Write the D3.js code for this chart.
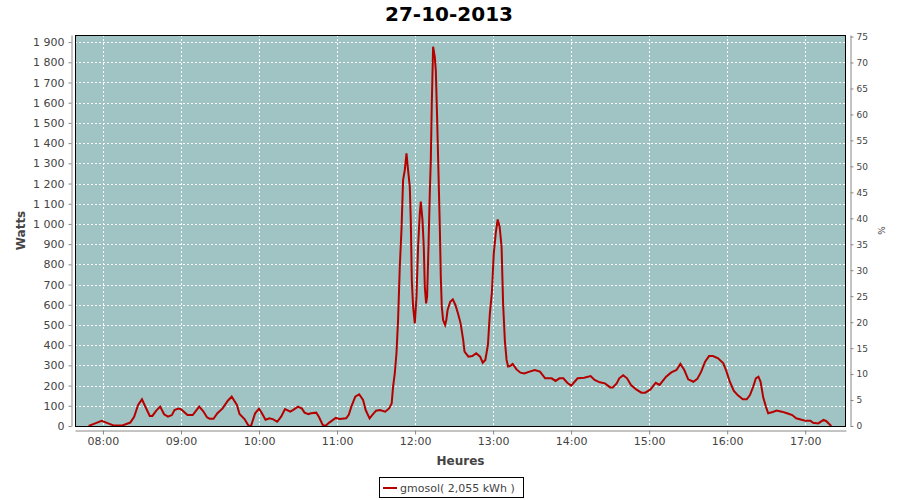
<!DOCTYPE html>
<html>
<head>
<meta charset="utf-8">
<script src="https://cdn.jsdelivr.net/npm/d3@7"></script>
<style>
  html, body { margin: 0; padding: 0; background: #fff; }
  svg { display: block; font-family: "DejaVu Sans", sans-serif; }
</style>
</head>
<body>
<svg id="chart" width="900" height="500"></svg>
<script>
// ---- data ----
const title = "27-10-2013";
const seriesName = "gmosol( 2,055 kWh )";
const times = [
  "07:49","07:54","07:59","08:04","08:08","08:15","08:21","08:24","08:27","08:30",
  "08:32","08:36","08:38","08:41","08:44","08:47","08:50","08:53","08:55","08:58",
  "09:00","09:05","09:09","09:14","09:17","09:20","09:22","09:25","09:28","09:32",
  "09:36","09:39","09:43","09:45","09:49","09:52","09:54","09:57","10:00","10:02",
  "10:05","10:08","10:11","10:14","10:17","10:20","10:24","10:26","10:30","10:33",
  "10:35","10:38","10:40","10:44","10:46","10:49","10:51","10:54","10:59","11:02",
  "11:07","11:09","11:11","11:14","11:17","11:20","11:22","11:25","11:27","11:30",
  "11:33","11:37","11:40","11:42",
  "11:43:05","11:44:23","11:45:41","11:46:55","11:48:14","11:49:32","11:50:46","11:52:05",
  "11:53:23","11:54:37","11:55:55","11:56:41","11:57:28","11:58:28","11:59:46","12:01:05",
  "12:02:18","12:03:37","12:04:23","12:05:41","12:06:41","12:07:28","12:08:28","12:09:14",
  "12:10:18","12:11:18","12:12:05","12:12:51","12:13:51","12:15:09","12:15:55","12:16:55",
  "12:18:00","12:19:00","12:19:46","12:20:32","12:21:32","12:23:05",
  "12:24","12:25","12:27","12:29","12:31","12:33","12:35","12:37","12:38","12:41",
  "12:44","12:47","12:50","12:52","12:54","12:56","12:57:30","12:59","13:00:30","13:02",
  "13:03:30","13:05","13:06:30","13:07:40","13:09","13:10:20","13:11:30","13:13","13:15","13:18",
  "13:21","13:24","13:28","13:32","13:36","13:40","13:45","13:48","13:51","13:54",
  "13:57","14:00","14:02","14:05","14:10","14:15","14:18","14:22","14:26","14:30",
  "14:32","14:35","14:37","14:40","14:43","14:46","14:50","14:54","14:57","15:01",
  "15:05","15:08","15:13","15:17","15:21","15:24","15:27","15:30","15:34","15:37",
  "15:40","15:43","15:46","15:49","15:53","15:57","15:59:30","16:02","16:05","16:08",
  "16:12","16:15","16:17:30","16:20","16:22","16:24","16:25:40","16:27:40","16:29:45","16:31:30",
  "16:35","16:38","16:42","16:46","16:50","16:53","17:00","17:04","17:06","17:10",
  "17:14","17:16","17:20"
];
const watts = [
  0,13,26,13,3,3,17,46,104,132,
  104,50,50,76,96,58,46,54,79,86,
  83,54,54,96,74,43,36,36,63,87,
  125,145,104,59,33,0,3,63,86,66,
  31,38,33,21,46,84,71,79,96,86,
  66,59,63,66,46,5,0,17,40,35,
  38,55,96,145,157,129,79,38,54,76,
  79,71,87,112,
  195,260,360,524,788,970,1217,1266,
  1349,1266,1184,1019,722,590,508,640,
  887,1052,1110,1019,887,690,607,640,
  887,1151,1316,1596,1877,1827,1761,1530,
  1250,986,739,590,524,500,
  524,574,615,627,599,557,508,425,368,343,
  346,360,343,313,327,401,557,656,854,953,
  1022,986,887,607,425,327,294,297,307,280,
  264,260,269,277,269,236,236,223,236,236,
  214,200,214,236,239,247,228,216,211,191,
  191,211,236,251,236,203,181,165,165,181,
  214,203,244,265,277,307,277,231,219,233,
  269,318,346,346,335,310,269,219,175,153,
  132,132,153,195,236,244,219,142,96,63,
  69,76,71,63,54,38,26,26,16,13,
  30,25,0
];
const wattTicks = d3.range(0, 2000, 100);
const pctTicks = d3.range(0, 80, 5);
const hourTicks = ["08:00","09:00","10:00","11:00","12:00","13:00","14:00","15:00","16:00","17:00"];
const xDomain = ["07:38:30", "17:31:20"];
const wattMax = 1935;
const pctMax = 75.3;

// ---- layout ----
const L = 75, R = 846, T = 35, B = 426;
const pM = d3.timeParse("%H:%M"), pS = d3.timeParse("%H:%M:%S");
const parse = s => s.length > 5 ? pS(s) : pM(s);

const svg = d3.select("#chart");
const x = d3.scaleTime().domain(xDomain.map(parse)).range([L, R]);
const y = d3.scaleLinear().domain([0, wattMax]).range([B, T]);
const y2 = d3.scaleLinear().domain([0, pctMax]).range([B, T]);

const data = times.map((t, i) => ({ t: parse(t), v: watts[i] }));

// title
svg.append("text").attr("x", 449).attr("y", 21).attr("text-anchor", "middle")
  .style("font-size", "20px").style("font-weight", "bold").attr("fill", "#000").text(title);

// plot background
svg.append("rect").attr("x", L).attr("y", T).attr("width", R - L).attr("height", B - T)
  .attr("fill", "#9fc4c3");

// gridlines
const grid = svg.append("g").attr("stroke", "#fff").attr("stroke-width", 1)
  .attr("stroke-dasharray", "2,2");
wattTicks.filter(v => v > 0).forEach(v => {
  const yy = Math.round(y(v)) + 0.5;
  grid.append("line").attr("x1", L).attr("x2", R).attr("y1", yy).attr("y2", yy);
});
hourTicks.forEach(h => {
  const xx = Math.round(x(parse(h))) + 0.5;
  grid.append("line").attr("x1", xx).attr("x2", xx).attr("y1", T).attr("y2", B);
});

// clip
svg.append("clipPath").attr("id", "clip").append("rect")
  .attr("x", L).attr("y", T - 2).attr("width", R - L).attr("height", B - T + 2);

// series line
const line = d3.line().x(d => x(d.t)).y(d => y(d.v));
svg.append("path").datum(data).attr("clip-path", "url(#clip)")
  .attr("fill", "none").attr("stroke", "#b50000").attr("stroke-width", 2)
  .attr("stroke-linejoin", "miter").attr("d", line);

// plot border
svg.append("rect").attr("x", L + 0.5).attr("y", T + 0.5).attr("width", R - L - 1).attr("height", B - T)
  .attr("fill", "none").attr("stroke", "#000").attr("stroke-width", 1);

// axes
const fmtW = d3.formatLocale({ decimal: ",", thousands: " ", grouping: [3], currency: ["", ""] }).format(",d");
const styleAxis = (g, size) => {
  g.select(".domain").attr("stroke", "#888");
  g.selectAll(".tick line").attr("stroke", "#888");
  g.selectAll(".tick text").attr("fill", "#444").style("font-size", size).style("font-family", "DejaVu Sans");
};

const gL = svg.append("g").attr("transform", "translate(71.5,0)")
  .call(d3.axisLeft(y).tickValues(wattTicks).tickFormat(fmtW).tickSize(3).tickSizeOuter(0).tickPadding(4));
styleAxis(gL, "11px");

const gR = svg.append("g").attr("transform", "translate(850.5,0)")
  .call(d3.axisRight(y2).tickValues(pctTicks).tickFormat(d3.format("d")).tickSize(3).tickSizeOuter(0).tickPadding(3));
styleAxis(gR, "9px");

const gB = svg.append("g").attr("transform", "translate(0,430.5)")
  .call(d3.axisBottom(x).tickValues(hourTicks.map(parse)).tickFormat(d3.timeFormat("%H:%M"))
    .tickSize(4).tickSizeOuter(0).tickPadding(3));
styleAxis(gB, "11px");

// axis titles
svg.append("text").attr("transform", "translate(25,230.5) rotate(-90)").attr("text-anchor", "middle")
  .style("font-size", "12px").style("font-weight", "bold").attr("fill", "#444").text("Watts");
svg.append("text").attr("x", 460.5).attr("y", 465).attr("text-anchor", "middle")
  .style("font-size", "12px").style("font-weight", "bold").attr("fill", "#444").text("Heures");
svg.append("text").attr("transform", "translate(878,230.5) rotate(90)").attr("text-anchor", "middle")
  .style("font-size", "9px").attr("fill", "#444").text("%");

// legend
const lg = svg.append("g");
lg.append("rect").attr("x", 379.5).attr("y", 477.5).attr("width", 144).attr("height", 20)
  .attr("fill", "#fff").attr("stroke", "#000");
lg.append("line").attr("x1", 383).attr("x2", 397).attr("y1", 488).attr("y2", 488)
  .attr("stroke", "#b50000").attr("stroke-width", 2);
lg.append("text").attr("x", 400).attr("y", 492).style("font-size", "11px").attr("fill", "#444")
  .text(seriesName);
</script>
</body>
</html>
